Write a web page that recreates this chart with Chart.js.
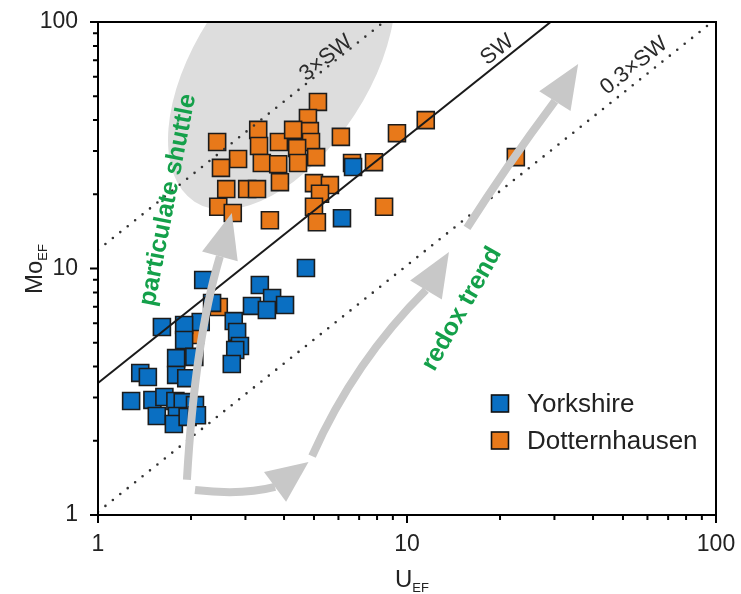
<!DOCTYPE html>
<html>
<head>
<meta charset="utf-8">
<script src="https://cdn.jsdelivr.net/npm/chart.js@4.4.0/dist/chart.umd.min.js"></script>
<style>
  html, body { margin: 0; padding: 0; background: #fff; }
</style>
</head>
<body>
<canvas id="chart" width="741" height="594"></canvas>
<script>
// axis ticks (log decades)
const tickLabels = [1, 10, 100];

// Yorkshire: U_EF vs Mo_EF
const yorkshireU  = [6.69, 6.16, 4.71, 2.19, 3.34, 3.66, 4.03, 3.15, 3.52, 2.34, 2.75, 2.82, 2.88, 2.78, 2.71, 2.15, 1.90, 1.61,
                     1.90, 1.79, 2.05, 1.79, 1.93, 1.37, 1.45, 1.28, 1.50, 1.64, 1.78, 1.88, 2.06, 1.55, 1.80, 1.76, 1.95, 2.09];
const yorkshireMo = [25.8, 16.0, 10.05, 8.98, 8.57, 7.59, 7.11, 7.05, 6.79, 7.25, 6.12, 5.53, 4.85, 4.67, 4.10, 6.07, 5.90, 5.79,
                     5.13, 4.33, 4.38, 3.70, 3.59, 3.77, 3.63, 2.90, 2.93, 3.01, 2.90, 2.87, 2.79, 2.52, 2.52, 2.34, 2.50, 2.54];

// Dotternhausen: U_EF vs Mo_EF
const dotternU  = [5.15, 4.78, 4.85, 4.89, 6.11, 9.28, 11.5, 2.43, 3.30, 3.32, 3.85, 4.28, 4.41, 2.84, 2.50, 3.39, 3.83, 4.44, 5.08,
                   6.64, 7.82, 2.60, 3.04, 3.27, 3.88, 5.00, 5.63, 5.23, 2.45, 2.73, 3.60, 5.00, 5.11, 8.43, 22.5, 2.46, 2.06];
const dotternMo = [47.4, 40.8, 36.1, 32.6, 34.2, 35.4, 40.0, 32.6, 36.5, 31.4, 32.6, 36.5, 30.8, 27.8, 25.6, 26.8, 26.5, 26.8, 28.3,
                   26.8, 27.0, 21.0, 21.0, 21.0, 22.4, 22.2, 21.8, 20.1, 17.8, 16.8, 15.7, 17.8, 15.4, 17.8, 28.3, 6.98, 5.37];

// seawater Mo/U reference lines
const lineNames  = ['SW', '3\u00d7SW', '0.3\u00d7SW'];
const lineRatios = [3.43, 11.9, 1.03];
const lineLabelU  = [19.6, 5.47, 54.3];
const lineLabelMo = [77, 71.4, 66.3];

const FONT = '"Liberation Sans", Arial, sans-serif';
const BLUE = '#0a6fc2';
const ORANGE = '#e8791a';
const GREEN = '#14a04a';
const ARROW = '#c8c8c8';

function toPx(chart, x, y) {
    return [chart.scales.x.getPixelForValue(x), chart.scales.y.getPixelForValue(y)];
}

// gray arrows: start, control, end of shaft, tip of head (data coords)
const shuttleArrow = [[1.94, 1.39], [2.06, 5.13], [2.48, 11.2], [2.71, 16.8]];
const redoxArrows = [
    [[2.06, 1.263], [2.93, 1.20], [3.74, 1.30], [4.80, 1.64]],
    [[4.93, 1.735], [6.79, 4.25], [11.52, 8.18], [13.67, 11.67]],
    [[15.64, 14.6], [20.76, 25.6], [30.1, 47.8], [35.8, 67.5]]
];

function drawArrow(chart, pts) {
    const ctx = chart.ctx;
    const [s, c, e, t] = pts.map(q => toPx(chart, q[0], q[1]));
    ctx.strokeStyle = ARROW;
    ctx.fillStyle = ARROW;
    ctx.lineWidth = 8;
    ctx.beginPath();
    ctx.moveTo(s[0], s[1]);
    ctx.quadraticCurveTo(c[0], c[1], e[0], e[1]);
    ctx.stroke();
    const dx = t[0] - e[0], dy = t[1] - e[1], len = Math.hypot(dx, dy);
    const half = 18.5;
    const nx = -dy / len * half, ny = dx / len * half;
    ctx.beginPath();
    ctx.moveTo(t[0], t[1]);
    ctx.lineTo(e[0] + nx, e[1] + ny);
    ctx.lineTo(e[0] - nx, e[1] - ny);
    ctx.closePath();
    ctx.fill();
}

function rotatedText(ctx, text, x, y, angle) {
    ctx.save();
    ctx.translate(x, y);
    ctx.rotate(angle);
    ctx.fillText(text, 0, 0);
    ctx.restore();
}

const backdrop = {
    id: 'backdrop',
    beforeDatasetsDraw(chart) {
        const { ctx, chartArea: a } = chart;
        const [cx, cy] = toPx(chart, 3.93, 65.4);
        ctx.save();
        ctx.beginPath();
        ctx.rect(a.left, a.top, a.right - a.left, a.bottom - a.top);
        ctx.clip();
        ctx.fillStyle = '#dddddd';
        ctx.beginPath();
        ctx.ellipse(cx, cy, 160, 87, -57 * Math.PI / 180, 0, Math.PI * 2);
        ctx.fill();
        ctx.restore();
    }
};

const overlay = {
    id: 'overlay',
    afterDatasetsDraw(chart) {
        const { ctx, chartArea: a } = chart;
        ctx.save();

        // arrows
        drawArrow(chart, shuttleArrow);
        redoxArrows.forEach(p => drawArrow(chart, p));

        // line labels
        const p1 = toPx(chart, 1, 1), p2 = toPx(chart, 10, 10);
        const slope = Math.atan2(p2[1] - p1[1], p2[0] - p1[0]);
        ctx.fillStyle = '#2a2a2a';
        ctx.font = '22px ' + FONT;
        ctx.textAlign = 'center';
        ctx.textBaseline = 'middle';
        lineNames.forEach((n, i) => {
            const [x, y] = toPx(chart, lineLabelU[i], lineLabelMo[i]);
            rotatedText(ctx, n, x, y, slope);
        });

        // process labels
        ctx.fillStyle = GREEN;
        ctx.font = 'bold 25px ' + FONT;
        let [x, y] = toPx(chart, 1.685, 18.97);
        rotatedText(ctx, 'particulate shuttle', x, y, -79 * Math.PI / 180);
        [x, y] = toPx(chart, 15.07, 6.85);
        rotatedText(ctx, 'redox trend', x, y, -60.5 * Math.PI / 180);

        // frame
        ctx.strokeStyle = '#000';
        ctx.lineWidth = 2;
        ctx.strokeRect(a.left, a.top, a.right - a.left, a.bottom - a.top);

        // tick marks
        const xs = chart.scales.x, ys = chart.scales.y;
        ctx.beginPath();
        for (let d = 1; d <= 100; d *= 10) {
            for (let m = 1; m <= 9; m++) {
                const v = d * m;
                if (v > 100) break;
                const len = m === 1 ? 8 : 5;
                const px = xs.getPixelForValue(v);
                ctx.moveTo(px, a.bottom);
                ctx.lineTo(px, a.bottom + len);
                const py = ys.getPixelForValue(v);
                ctx.moveTo(a.left, py);
                ctx.lineTo(a.left - len, py);
            }
        }
        ctx.stroke();

        // legend
        ctx.font = '26px ' + FONT;
        ctx.textAlign = 'left';
        ctx.textBaseline = 'alphabetic';
        const sets = chart.data.datasets.filter(d => d.legend);
        sets.sort((p, q) => p.legend - q.legend).forEach((d, i) => {
            const top = 395 + i * 37;
            ctx.fillStyle = d.backgroundColor;
            ctx.fillRect(491.5, top, 17, 17);
            ctx.lineWidth = 1.6;
            ctx.strokeStyle = '#111';
            ctx.strokeRect(491.5, top, 17, 17);
            ctx.fillStyle = '#222';
            ctx.fillText(d.label, 527, top + 17);
        });

        // axis titles
        ctx.fillStyle = '#222';
        ctx.font = '24px ' + FONT;
        ctx.fillText('U', 395, 587);
        const uw = ctx.measureText('U').width;
        ctx.font = '13px ' + FONT;
        ctx.fillText('EF', 395 + uw, 592);

        ctx.save();
        ctx.translate(42, 294);
        ctx.rotate(-Math.PI / 2);
        ctx.font = '24px ' + FONT;
        ctx.fillText('Mo', 0, 0);
        const mw = ctx.measureText('Mo').width;
        ctx.font = '13px ' + FONT;
        ctx.fillText('EF', mw, 5);
        ctx.restore();

        ctx.restore();
    }
};

const pointStyle = {
    type: 'scatter',
    pointStyle: 'rect',
    pointRadius: 12,
    pointHoverRadius: 12,
    borderWidth: 1.6,
    borderColor: '#1c1c1c'
};

const datasets = [];
lineNames.forEach((n, i) => {
    datasets.push({
        type: 'line',
        label: n,
        data: [{ x: 1, y: lineRatios[i] }, { x: 100, y: lineRatios[i] * 100 }],
        borderColor: i === 0 ? '#1a1a1a' : '#333',
        borderWidth: i === 0 ? 2 : 2.6,
        borderDash: i === 0 ? [] : [0, 9.5],
        borderCapStyle: i === 0 ? 'butt' : 'round',
        pointRadius: 0,
        fill: false,
        order: 0
    });
});
datasets.push(Object.assign({}, pointStyle, {
    label: 'Yorkshire',
    legend: 1,
    data: yorkshireU.map((u, i) => ({ x: u, y: yorkshireMo[i] })),
    backgroundColor: BLUE,
    order: 1
}));
datasets.push(Object.assign({}, pointStyle, {
    label: 'Dotternhausen',
    legend: 2,
    data: dotternU.map((u, i) => ({ x: u, y: dotternMo[i] })),
    backgroundColor: ORANGE,
    order: 2
}));

const axisTicks = {
    color: '#222',
    font: { family: FONT, size: 23 },
    callback: v => String(v),
    autoSkip: false,
    maxRotation: 0
};

// no extra label padding: the plot box is set by the layout padding alone
function noPad(s) {
    s.paddingTop = 0;
    s.paddingBottom = 0;
    s.paddingLeft = 0;
    s.paddingRight = 0;
}

new Chart(document.getElementById('chart'), {
    type: 'scatter',
    data: { datasets },
    options: {
        responsive: false,
        animation: false,
        layout: { padding: { top: 22, right: 25, left: 0, bottom: 0 } },
        plugins: {
            legend: { display: false },
            tooltip: { enabled: false }
        },
        scales: {
            x: {
                type: 'logarithmic',
                min: 1,
                max: 100,
                grid: { display: false, drawTicks: false },
                border: { display: false },
                ticks: Object.assign({}, axisTicks, { padding: 16 }),
                afterBuildTicks: s => { s.ticks = tickLabels.map(v => ({ value: v })); },
                afterFit: s => { s.height = 79; noPad(s); }
            },
            y: {
                type: 'logarithmic',
                min: 1,
                max: 100,
                grid: { display: false, drawTicks: false },
                border: { display: false },
                ticks: Object.assign({}, axisTicks, { padding: 20 }),
                afterBuildTicks: s => { s.ticks = tickLabels.map(v => ({ value: v })); },
                afterFit: s => { s.width = 98; noPad(s); }
            }
        }
    },
    plugins: [backdrop, overlay]
});
</script>
</body>
</html>
